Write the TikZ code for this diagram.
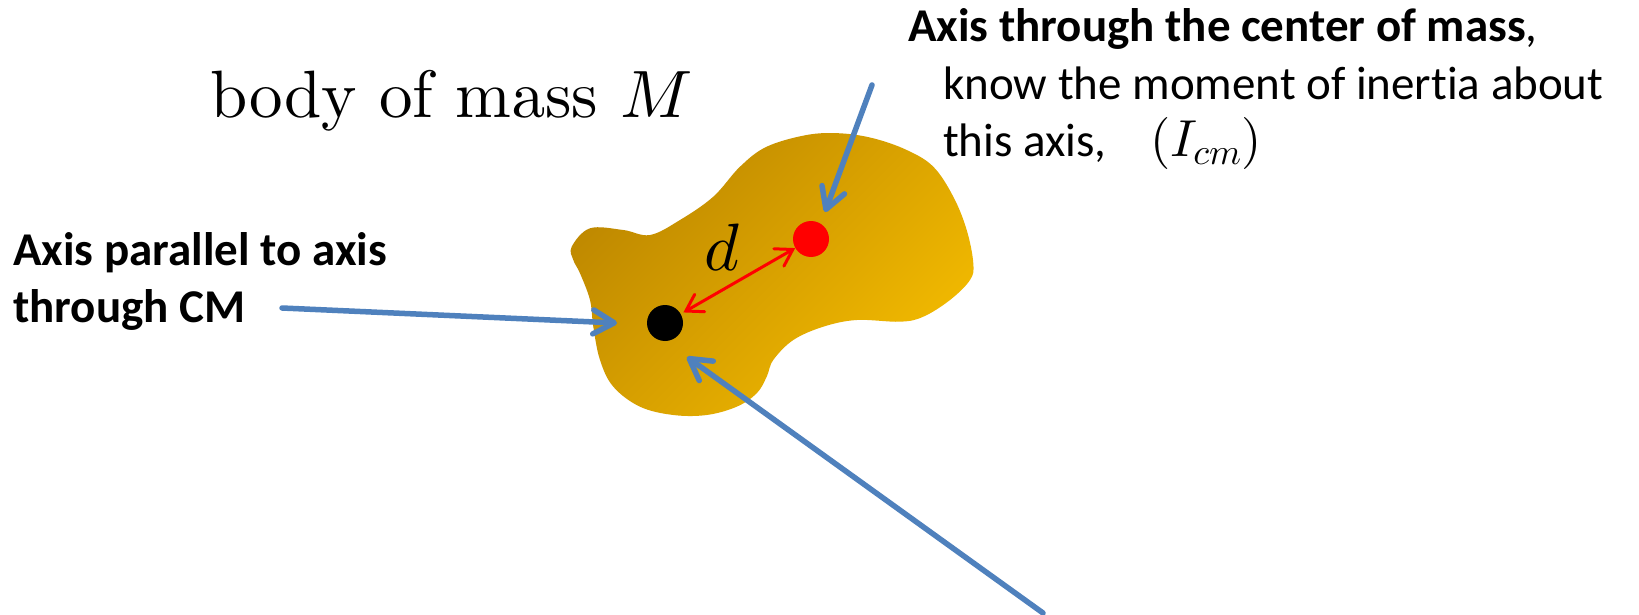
\documentclass[tikz,border=0pt]{standalone}
\usepackage{fontspec}
\DeclareFontShape{OML}{cmm}{m}{it}{<->cmmi10}{}
\DeclareFontShape{OT1}{cmr}{m}{n}{<->cmr10}{}
\DeclareFontShape{OMS}{cmsy}{m}{n}{<->cmsy10}{}
\newfontfamily\calib[Ligatures=NoCommon]{Carlito}
\usetikzlibrary{arrows.meta}
\definecolor{axblue}{RGB}{79,129,189}
\definecolor{blobdark}{RGB}{190,136,0}
\definecolor{bloblight}{RGB}{243,187,0}
\definecolor{dotred}{RGB}{255,0,0}
\newcommand{\cmrtext}{\fontencoding{OT1}\fontfamily{cmr}\selectfont}
\begin{document}
\begin{tikzpicture}[x=1pt,y=-1pt,
  annot/.style={font=\calib\fontsize{47}{57}\selectfont, inner sep=0pt, anchor=base west},
  annotbold/.style={font=\calib\bfseries\fontsize{47}{57}\selectfont, inner sep=0pt, anchor=base west},
  bigserif/.style={font=\fontsize{67}{80}\selectfont\cmrtext, inner sep=0pt},
  dotnode/.style={circle, minimum size=36pt, inner sep=0pt},
  bluearrow/.style={draw=axblue, line width=5.5pt, line cap=round,
    -{Straight Barb[length=21pt, width=24pt, line cap=round, line join=round]}},
  redarrow/.style={draw=dotred, line width=3pt, line cap=round,
    {Straight Barb[length=16pt, width=20pt, line cap=round]}-{Straight Barb[length=16pt, width=20pt, line cap=round]}}
]
\useasboundingbox (0,0) rectangle (1639,615);
\fill[white] (0,0) rectangle (1639,615);

% body (blob)
\shade[top color=blobdark, bottom color=bloblight, shading angle=45]
  plot[smooth cycle, tension=0.6] coordinates {
  (571.7,246.7) (590,228.3) (623.3,230) (650,235) (680,220) (713.3,196.7)
  (740,166.7) (766.7,146.7) (806.7,135) (840,133.3) (873.3,138.3) (906.7,150)
  (933.3,166.7) (953.3,196.7) (966.7,230) (973.3,263.3) (970,280) (950,300)
  (923.3,316.7) (900,321.7) (856.7,320) (823.3,326.7) (793.3,340) (773.3,360)
  (766.7,376.7) (756.7,393.3) (736.7,406.7) (706.7,415) (673.3,415) (640,406.7)
  (613.3,386.7) (600,360) (593.3,326.7) (590,300) (580,273.3) (573.3,260)};

% axes (dots)
\node[dotnode, fill=black] (paxis) at (665,323) {};
\node[dotnode, fill=dotred] (cmaxis) at (811,239) {};

% distance d
\draw[redarrow, shorten <=3pt] (paxis) -- (cmaxis);
\node[bigserif, anchor=base] (dlab) at (722,270) {$d$};

% texts
\node[bigserif, anchor=base west] (body) at (210,118) {body of mass $M$};

\node[annotbold] (cmtitle) at (908,42) {Axis through the center of mass\mdseries,};
\node[annot] (cmline2) at (943,100) {know the moment of inertia about};
\node[annot] (cmline3) at (943,157) {this axis,};
\node[font=\fontsize{52}{62}\selectfont, inner sep=0pt, anchor=base west] (icm) at (1150,157) {$(I_{cm})$};

\node[annotbold] (partext1) at (13,265) {Axis parallel to axis};
\node[annotbold] (partext2) at (13,322) {through CM};

% blue arrows
\coordinate (ltail) at (282,308);
\coordinate (ltip) at (617,323);
\coordinate (ttail) at (872,85);
\coordinate (ttip) at (825,212);
\coordinate (btail) at (1043,613);
\coordinate (btip) at (687,357);
\draw[bluearrow] (ltail) -- (ltip);
\draw[bluearrow] (ttail) -- (ttip);
\draw[bluearrow] (btail) -- (btip);
\end{tikzpicture}
\end{document}
